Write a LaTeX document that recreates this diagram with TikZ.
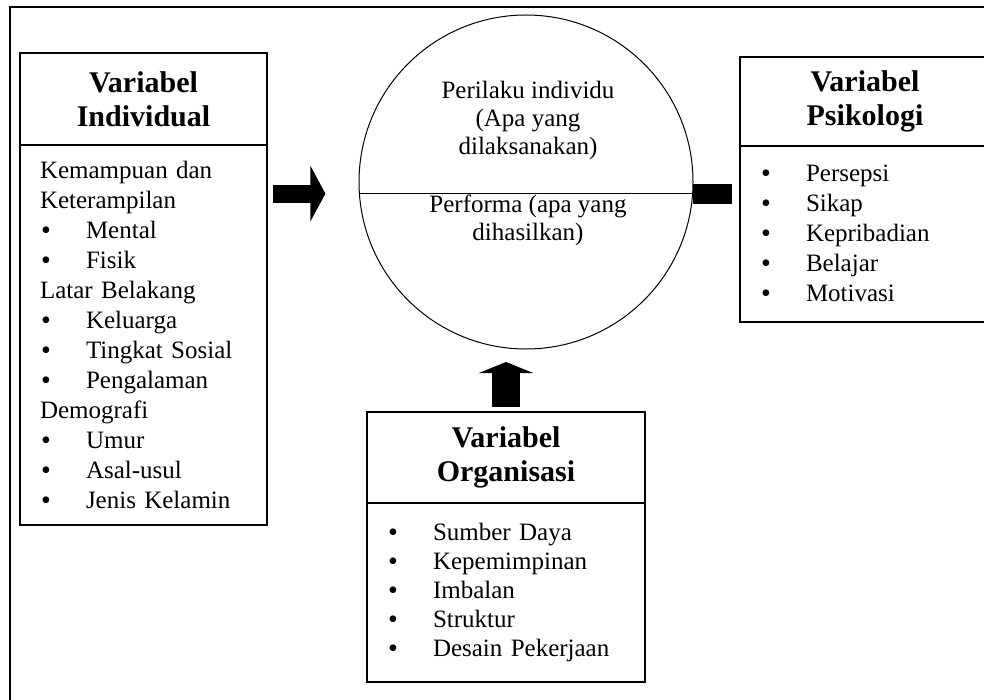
\documentclass[tikz,border=0pt]{standalone}
\usepackage{fontspec}
\setmainfont{Liberation Serif}
\usetikzlibrary{positioning,arrows.meta}
\newcommand{\bul}[1]{\makebox[23pt][l]{\hspace{0.5pt}\raisebox{-0.4pt}{\fontsize{14}{14}\selectfont\textbullet}}#1}

\begin{document}
\begin{tikzpicture}[
		x=0.5pt, y=-0.5pt,
		headbox/.style={rectangle, draw, line width=0.7pt, outer sep=0pt, align=center, font=\fontsize{15}{17}\selectfont\bfseries},
		bodybox/.style={rectangle, draw, line width=0.7pt, outer sep=0pt, inner xsep=10pt, align=left, font=\fontsize{12.5}{15}\selectfont},
		blockarrow/.style={draw=black, line width=#1}
	]
  \useasboundingbox (0,0) rectangle (984,700);
  \draw[line width=0.9pt] (10,700) |- (984,7);

  \node (ind_head) [headbox, minimum width=123.5pt, minimum height=46pt, anchor=north west] at (20,53) {Variabel\\Individual};
  \node (ind_body) [bodybox, text width=103.5pt, minimum height=190pt, below=0pt of ind_head] {Kemampuan dan\\Keterampilan\\\bul{Mental}\\\bul{Fisik}\\Latar Belakang\\\bul{Keluarga}\\\bul{Tingkat Sosial}\\\bul{Pengalaman}\\Demografi\\\bul{Umur}\\\bul{Asal-usul}\\\bul{Jenis Kelamin}};

  \node (beh) [circle, draw, line width=0.5pt, outer sep=0pt, inner sep=0pt, minimum size=167pt] at (526,182) {};
  \node (beh_top) [align=center, font=\fontsize{12.5}{14}\selectfont] at (528,120) {Perilaku individu\\(Apa yang\\dilaksanakan)};
  \node (beh_bot) [align=center, font=\fontsize{12.5}{14}\selectfont] at (528,220) {Performa (apa yang\\dihasilkan)};
  \draw[line width=0.5pt] (beh.184.5) -- (beh.-4.5);

  \node (psi_head) [headbox, minimum width=125pt, minimum height=44.5pt, anchor=north west] at (740,57) {Variabel\\Psikologi};
  \node (psi_body) [bodybox, text width=105pt, minimum height=88pt, below=0pt of psi_head] {\bul{Persepsi}\\\bul{Sikap}\\\bul{Kepribadian}\\\bul{Belajar}\\\bul{Motivasi}};

  \node (org_head) [headbox, minimum width=139pt, minimum height=45.5pt, anchor=north west] at (367,412) {Variabel\\Organisasi};
  \node (org_body) [bodybox, text width=119pt, minimum height=89.5pt, below=0pt of org_head, font=\fontsize{12.5}{14.5}\selectfont] {\bul{Sumber Daya}\\\bul{Kepemimpinan}\\\bul{Imbalan}\\\bul{Struktur}\\\bul{Desain Pekerjaan}};

  \draw[blockarrow=9pt, -{Triangle[width=27.5pt,length=7.5pt]}, shorten <=3pt, shorten >=17pt] (ind_body.east |- beh.184.5) -- (beh.184.5);
  \draw[blockarrow=10pt, shorten >=4pt] (beh.-4.5) -- (psi_body.west |- beh.-4.5);
  \draw[blockarrow=14pt, -{Triangle[width=27pt,length=5.5pt]}, shorten <=2.5pt, shorten >=6.5pt] (org_head.north) -- (org_head.north |- beh.south);
\end{tikzpicture}
\end{document}
